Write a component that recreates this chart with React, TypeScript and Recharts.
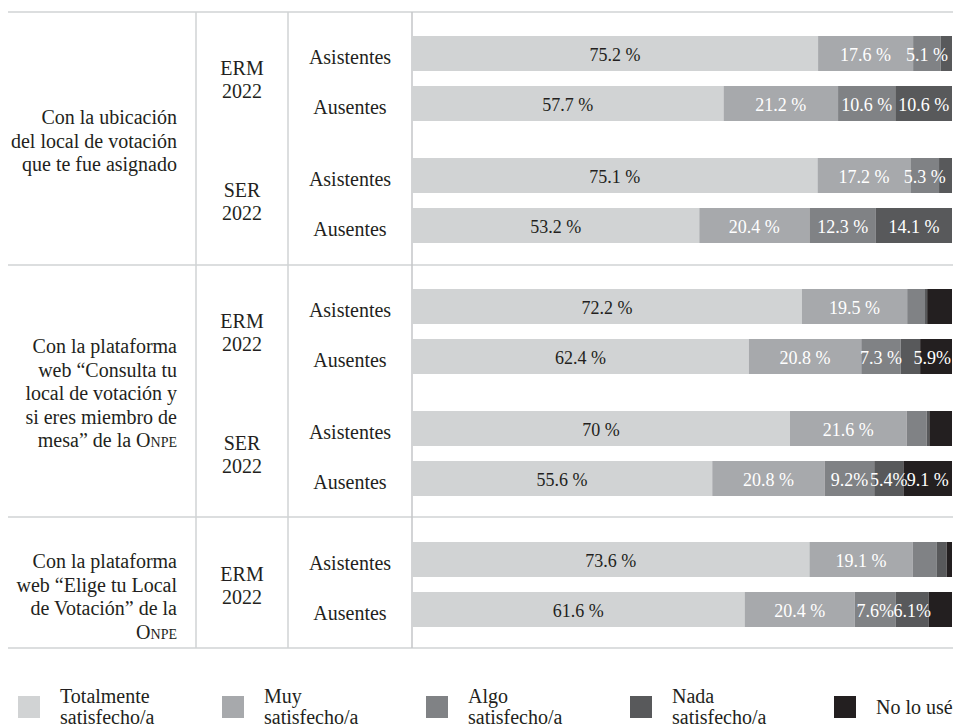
import React from 'react';
import { BarChart, Bar, XAxis, YAxis, LabelList } from 'recharts';

// ---------- data ----------
const seriesNames = ['Totalmente satisfecho/a', 'Muy satisfecho/a', 'Algo satisfecho/a', 'Nada satisfecho/a', 'No lo usé'];
const legendLines = [['Totalmente', 'satisfecho/a'], ['Muy', 'satisfecho/a'], ['Algo', 'satisfecho/a'], ['Nada', 'satisfecho/a'], ['No lo usé']];
const seriesKeys = ['tot', 'muy', 'algo', 'nada', 'nouse'];

const rowLabels = ['Asistentes', 'Ausentes', 'Asistentes', 'Ausentes', 'Asistentes', 'Ausentes', 'Asistentes', 'Ausentes', 'Asistentes', 'Ausentes'];
const surveyLabels = [['ERM', '2022'], ['SER', '2022'], ['ERM', '2022'], ['SER', '2022'], ['ERM', '2022']];
const sectionLines = [
  ['Con la ubicación', 'del local de votación', 'que te fue asignado'],
  ['Con la plataforma', 'web “Consulta tu', 'local de votación y', 'si eres miembro de', 'mesa” de la Onpe'],
  ['Con la plataforma', 'web “Elige tu Local', 'de Votación” de la', 'Onpe'],
];

const totalmente = [75.2, 57.7, 75.1, 53.2, 72.2, 62.4, 70, 55.6, 73.6, 61.6];
const muy = [17.6, 21.2, 17.2, 20.4, 19.5, 20.8, 21.6, 20.8, 19.1, 20.4];
const algo = [5.1, 10.6, 5.3, 12.3, 3.3, 7.3, 3.7, 9.2, 4.5, 7.6];
const nada = [2.1, 10.6, 2.4, 14.1, 0.4, 3.6, 0.5, 5.4, 1.8, 6.1];
const noLoUse = [0, 0, 0, 0, 4.6, 5.9, 4.2, 9.1, 1.0, 4.3];

const totalmenteLbl = ['75.2 %', '57.7 %', '75.1 %', '53.2 %', '72.2 %', '62.4 %', '70 %', '55.6 %', '73.6 %', '61.6 %'];
const muyLbl = ['17.6 %', '21.2 %', '17.2 %', '20.4 %', '19.5 %', '20.8 %', '21.6 %', '20.8 %', '19.1 %', '20.4 %'];
const algoLbl = ['5.1 %', '10.6 %', '5.3 %', '12.3 %', '', '7.3 %', '', '9.2%', '', '7.6%'];
const nadaLbl = ['', '10.6 %', '', '14.1 %', '', '', '', '5.4%', '', '6.1%'];
const noLoUseLbl = ['', '', '', '', '', '5.9%', '', '9.1 %', '', ''];

// ---------- styles / layout ----------
const FONT = "'Liberation Serif', 'Times New Roman', serif";
const INK = '#231f20';
const RULE = '#d1d3d4';
const seriesColors = ['#d1d3d4', '#a7a9ac', '#808285', '#58595b', '#231f20'];
const labelColors = [INK, '#ffffff', '#ffffff', '#ffffff', '#ffffff'];

const CHART_W = 664;
const PAIR_TOPS = [27.5, 149.5, 280.5, 402.5, 533.5];
const PAIR_H = 100;
const SECTION_FIRST_LINE = [118, 347, 562];
const SECTION_LH = 23.5;
const H_RULES = [12, 265, 517, 648];
const V_RULES = [196, 288, 412];
const TXT = 20;
const LBL = 18;

const values = [totalmente, muy, algo, nada, noLoUse];
const labels = [totalmenteLbl, muyLbl, algoLbl, nadaLbl, noLoUseLbl];

function pairData(p: number) {
  return [0, 1].map((j) => {
    const i = p * 2 + j;
    const row: any = { row: rowLabels[i] };
    seriesKeys.forEach((k, s) => {
      row[k] = values[s][i];
      row[k + 'L'] = labels[s][i];
    });
    return row;
  });
}

function estWidth(t: string, size: number) {
  let w = 0;
  for (const c of t) {
    if (c === '%') w += 0.83;
    else if (c === '.' || c === ' ') w += 0.25;
    else w += 0.5;
  }
  return w * size;
}

const makeLabel = (s: number) => (props: any) => {
  const { x, y, width, height, value } = props;
  if (!value) return null;
  const half = estWidth(String(value), LBL) / 2;
  let cx = Number(x) + Number(width) / 2;
  if (cx + half > CHART_W - 1) cx = CHART_W - 1 - half;
  return (
    <text
      x={cx}
      y={Number(y) + Number(height) / 2 + 1}
      textAnchor="middle"
      dominantBaseline="central"
      fontFamily={FONT}
      fontSize={LBL}
      fill={labelColors[s]}
    >
      {value}
    </text>
  );
};

const RowTick = (props: any) => {
  const { y, payload } = props;
  return (
    <text x={62} y={y + 4} textAnchor="middle" dominantBaseline="central" fontFamily={FONT} fontSize={TXT} fill={INK}>
      {payload.value}
    </text>
  );
};

function renderLine(line: string) {
  const idx = line.indexOf('Onpe');
  if (idx < 0) return line;
  return (
    <>
      {line.slice(0, idx)}
      <span style={{ fontVariant: 'small-caps' }}>Onpe</span>
    </>
  );
}

export default function App() {
  return (
    <div style={{ position: 'absolute', left: 0, top: 0, width: 956, height: 727, background: '#fff', fontFamily: FONT, color: INK }}>
      <svg width={956} height={727} style={{ position: 'absolute', left: 0, top: 0 }}>
        {H_RULES.map((y) => (
          <line key={'h' + y} x1={8} x2={953} y1={y} y2={y} stroke={RULE} strokeWidth={1.5} />
        ))}
        {V_RULES.map((x) => (
          <line key={'v' + x} x1={x} x2={x} y1={12} y2={648} stroke={x === 412 ? '#c4c6c8' : RULE} strokeWidth={1.5} />
        ))}
      </svg>

      {sectionLines.map((lines, s) => (
        <div
          key={'sec' + s}
          style={{
            position: 'absolute',
            right: 956 - 177,
            top: SECTION_FIRST_LINE[s] - SECTION_LH / 2,
            textAlign: 'right',
            fontSize: TXT,
            lineHeight: SECTION_LH + 'px',
            whiteSpace: 'nowrap',
          }}
        >
          {lines.map((l, i) => (
            <div key={i}>{renderLine(l)}</div>
          ))}
        </div>
      ))}

      {surveyLabels.map((lines, p) => (
        <div
          key={'sv' + p}
          style={{
            position: 'absolute',
            left: 196,
            width: 92,
            top: PAIR_TOPS[p] + PAIR_H / 2 + 2 - 23,
            textAlign: 'center',
            fontSize: TXT,
            lineHeight: '23px',
          }}
        >
          {lines.map((l, i) => (
            <div key={i}>{l}</div>
          ))}
        </div>
      ))}

      {PAIR_TOPS.map((top, p) => (
        <div key={'pair' + p} style={{ position: 'absolute', left: 288, top }}>
          <BarChart
            width={CHART_W}
            height={PAIR_H}
            data={pairData(p)}
            layout="vertical"
            margin={{ top: 0, right: 0, bottom: 0, left: 0 }}
            barSize={35}
          >
            <XAxis type="number" domain={[0, 100]} allowDataOverflow hide />
            <YAxis type="category" dataKey="row" width={124} axisLine={false} tickLine={false} tick={(tp: any) => <RowTick {...tp} />} />
            {seriesKeys.map((k, s) => (
              <Bar key={k} dataKey={k} name={seriesNames[s]} stackId="s" fill={seriesColors[s]} isAnimationActive={false}>
                <LabelList dataKey={k + 'L'} content={makeLabel(s)} />
              </Bar>
            ))}
          </BarChart>
        </div>
      ))}

      {seriesNames.map((name, s) => (
        <div key={'lg' + s} style={{ position: 'absolute', left: 18 + s * 204, top: 696, height: 22 }}>
          <div style={{ position: 'absolute', left: 0, top: 0, width: 22, height: 22, background: seriesColors[s] }} />
          <div
            style={{
              position: 'absolute',
              left: 42,
              top: 11 - (legendLines[s].length * 21) / 2,
              fontSize: TXT,
              lineHeight: '21px',
              whiteSpace: 'nowrap',
            }}
            title={name}
          >
            {legendLines[s].map((l, i) => (
              <div key={i}>{l}</div>
            ))}
          </div>
        </div>
      ))}
    </div>
  );
}
